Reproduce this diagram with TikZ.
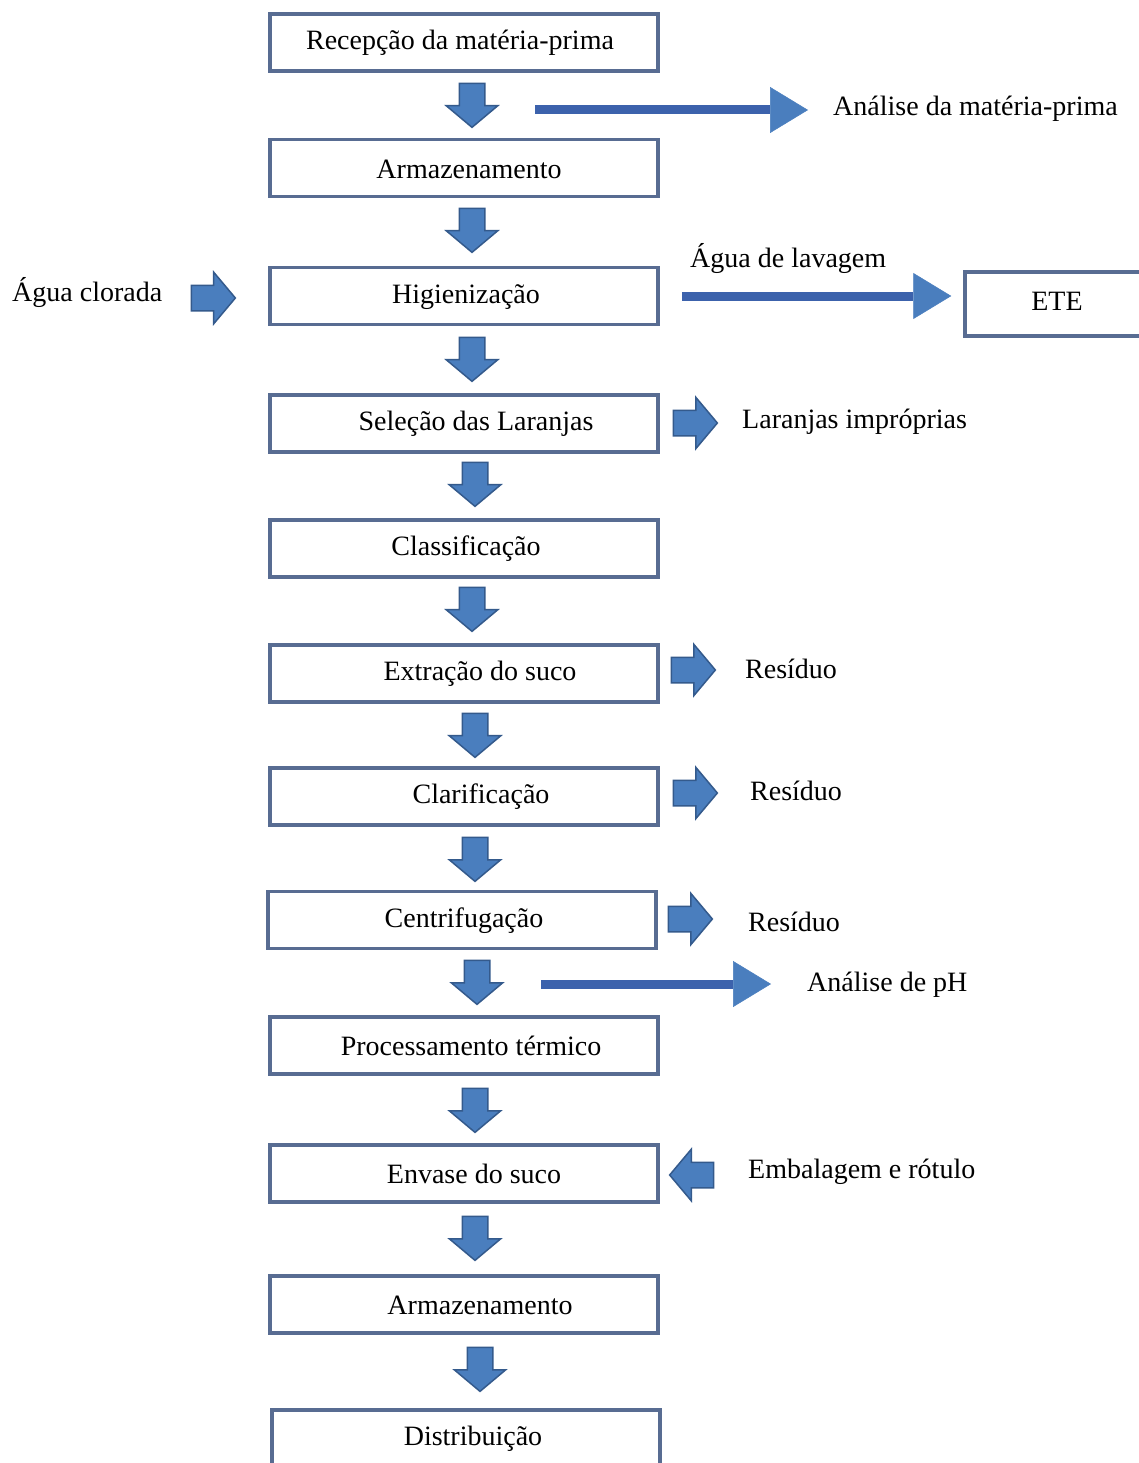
\documentclass[tikz,border=0pt]{standalone}
\usepackage{fontspec}
\setmainfont{Liberation Serif}
\usetikzlibrary{shapes.arrows,arrows.meta}
\definecolor{boxline}{RGB}{88,108,146}
\definecolor{afill}{RGB}{74,126,190}
\definecolor{adraw}{RGB}{52,90,140}
\definecolor{aline}{RGB}{60,98,172}
\begin{document}
\begin{tikzpicture}[x=1pt,y=-1pt,
 box/.style={draw=boxline,line width=3.5pt,minimum width=388pt,minimum height=57pt,inner sep=0pt,fill=white},
 lbl/.style={font=\fontsize{28}{32}\selectfont,inner sep=0pt},
 blk/.style={single arrow,draw=adraw,fill=afill,line width=1.5pt,minimum height=44pt,minimum width=0pt,single arrow head extend=13pt,single arrow tip angle=100},
 darrow/.style={blk,inner xsep=12pt,inner ysep=0pt,shape border rotate=270},
 rarrow/.style={blk,inner xsep=0pt,inner ysep=12pt},
 larrow/.style={blk,inner xsep=0pt,inner ysep=12pt,shape border rotate=180},
 thin/.style={draw=aline,line width=9pt,-{Triangle[length=38pt,width=46pt,line width=0.5pt,color=afill]}}
]
\clip (0,0) rectangle (1139,1463);
\fill[white] (0,0) rectangle (1139,1463);

% boxes
\node[box] (b1) at (464,42.5) {};
\node[box] (b2) at (464,168) {};
\node[box] (b3) at (464,296) {};
\node[box] (b4) at (464,423.5) {};
\node[box] (b5) at (464,548.5) {};
\node[box] (b6) at (464,673.5) {};
\node[box] (b7) at (464,796.5) {};
\node[box] (b8) at (462,920) {};
\node[box] (b9) at (464,1045.5) {};
\node[box] (b10) at (464,1173.5) {};
\node[box] (b11) at (464,1304.5) {};
\node[box] (b12) at (466,1438.5) {};
\node[box,minimum width=180pt,minimum height=64pt] (ete) at (1055,304) {};

% box texts
\node[lbl] (t1) at (460,43) {Recepção da matéria-prima};
\node[lbl] (t2) at (469,169) {Armazenamento};
\node[lbl] (t3) at (466,297) {Higienização};
\node[lbl] (t4) at (476,424) {Seleção das Laranjas};
\node[lbl] (t5) at (466,549) {Classificação};
\node[lbl] (t6) at (480,674) {Extração do suco};
\node[lbl] (t7) at (481,797) {Clarificação};
\node[lbl] (t8) at (464,921) {Centrifugação};
\node[lbl] (t9) at (471,1046) {Processamento térmico};
\node[lbl] (t10) at (474,1174) {Envase do suco};
\node[lbl] (t11) at (480,1305) {Armazenamento};
\node[lbl] (t12) at (473,1439) {Distribuição};
\node[lbl] (tete) at (1057,301) {ETE};

% side labels
\node[lbl,anchor=west] (an1) at (833,109) {Análise da matéria-prima};
\node[lbl,anchor=west] (agc) at (12,293) {Água clorada};
\node[lbl,anchor=west] (agl) at (690,259) {Água de lavagem};
\node[lbl,anchor=west] (lim) at (742,422) {Laranjas impróprias};
\node[lbl,anchor=west] (r1) at (745,669) {Resíduo};
\node[lbl,anchor=west] (r2) at (750,791) {Resíduo};
\node[lbl,anchor=west] (r3) at (748,922) {Resíduo};
\node[lbl,anchor=west] (aph) at (807,985) {Análise de pH};
\node[lbl,anchor=west] (emb) at (748,1172) {Embalagem e rótulo};

% down block arrows
\node[darrow] (d1) at (472,100) {};
\node[darrow] (d2) at (472,225) {};
\node[darrow] (d3) at (472,354) {};
\node[darrow] (d4) at (475,479) {};
\node[darrow] (d5) at (472,604) {};
\node[darrow] (d6) at (475,730) {};
\node[darrow] (d7) at (475,854) {};
\node[darrow] (d8) at (477,977) {};
\node[darrow] (d9) at (475,1105) {};
\node[darrow] (d10) at (475,1233) {};
\node[darrow] (d11) at (480,1364) {};

% side block arrows
\node[rarrow] (s1) at (208,298) {};
\node[rarrow] (s2) at (690,423) {};
\node[rarrow] (s3) at (688,670) {};
\node[rarrow] (s4) at (690,793) {};
\node[rarrow] (s5) at (685,919) {};
\node[larrow] (s6) at (697,1175) {};

% thin arrows
\coordinate (c1) at (535,110);
\draw[thin,shorten >=25pt] (c1) -- (c1 -| an1.west);
\draw[thin,shorten <=22pt,shorten >=12pt] (b3.east) -- (b3.east -| ete.west);
\coordinate (c2) at (541,984);
\draw[thin,shorten >=36pt] (c2) -- (c2 -| aph.west);
\end{tikzpicture}
\end{document}
